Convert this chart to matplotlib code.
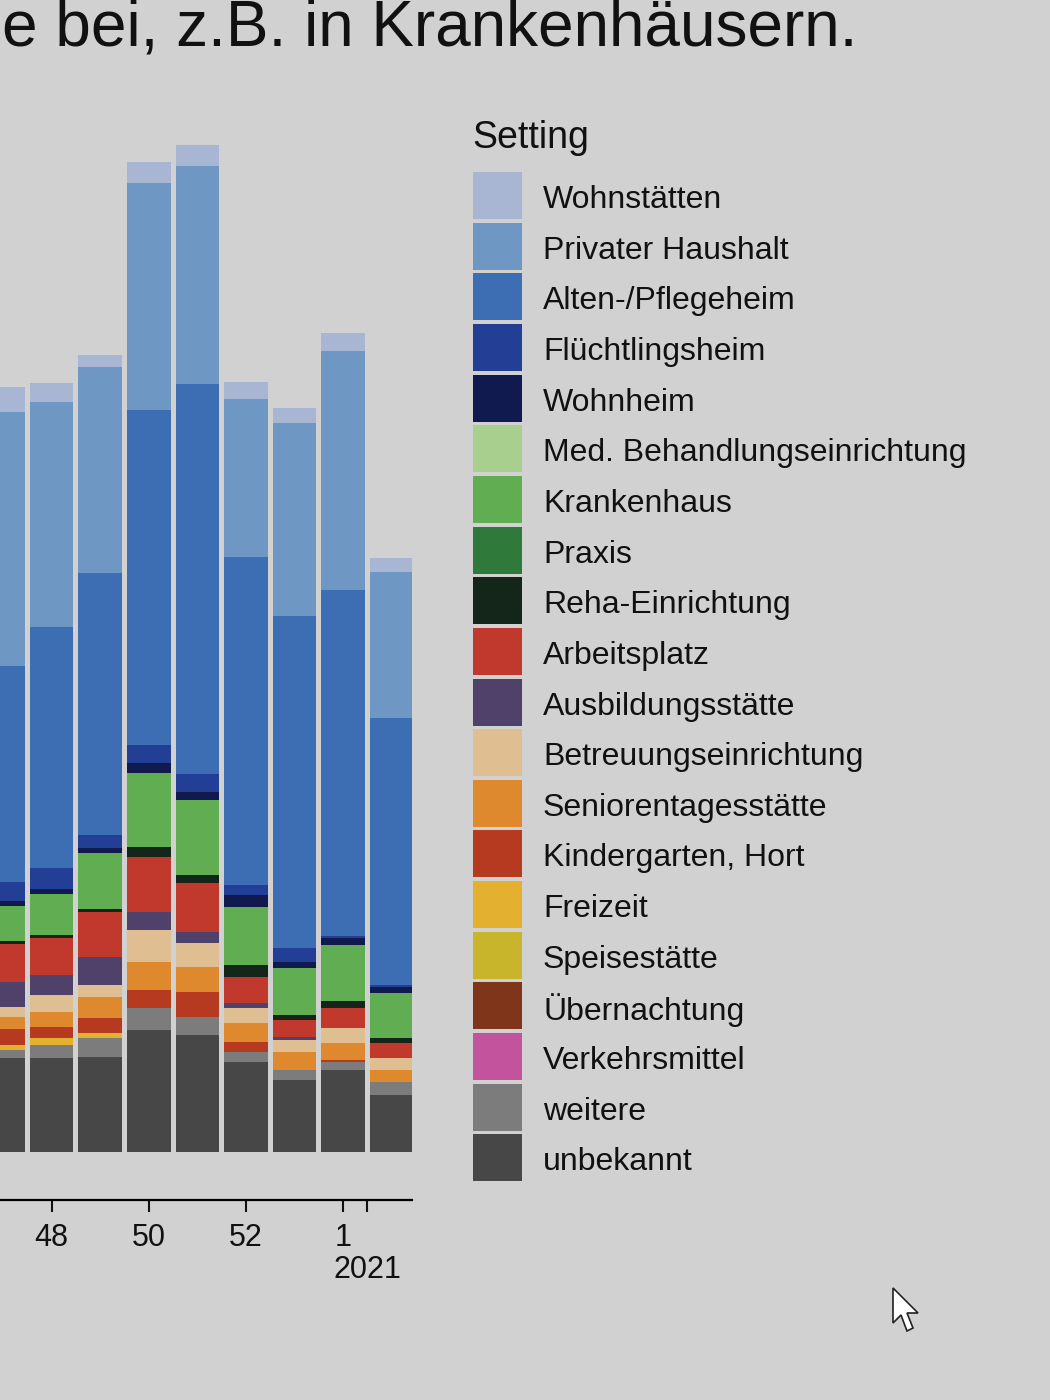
import matplotlib
matplotlib.use("Agg")
import matplotlib.pyplot as plt
from matplotlib.patches import Rectangle, Polygon

plt.rcParams['font.family'] = ['Liberation Sans', 'DejaVu Sans']

W, H = 1050, 1400

# Meldewochen (47/2020 ... 2/2021)
weeks = ['47', '48', '49', '50', '51', '52', '53', '1', '2']

# Fälle je Setting, von unten nach oben gestapelt
unbekannt = [94, 94, 95, 122, 117, 90, 72, 82, 57]
weitere = [8, 13, 19, 22, 18, 10, 10, 8, 13]
verkehrsmittel = [0, 0, 0, 0, 0, 0, 0, 0, 0]
uebernachtung = [0, 0, 0, 0, 0, 0, 0, 0, 0]
speisestaette = [0, 0, 0, 0, 0, 0, 0, 0, 0]
freizeit = [5, 7, 5, 0, 0, 0, 0, 0, 0]
kindergarten = [16, 11, 15, 18, 25, 10, 0, 2, 0]
senioren = [12, 15, 21, 28, 25, 19, 18, 17, 12]
betreuung = [10, 17, 12, 32, 24, 15, 12, 15, 12]
ausbildung = [25, 20, 28, 18, 11, 5, 3, 0, 0]
arbeitsplatz = [38, 37, 45, 55, 49, 26, 17, 20, 15]
reha = [3, 3, 3, 10, 8, 12, 5, 7, 5]
praxis = [0, 0, 0, 0, 0, 0, 0, 0, 0]
krankenhaus = [35, 41, 56, 74, 75, 58, 47, 56, 45]
med_behandlung = [0, 0, 0, 0, 0, 0, 0, 0, 0]
wohnheim = [5, 5, 5, 10, 8, 12, 6, 7, 6]
fluechtlingsheim = [19, 21, 13, 18, 18, 10, 14, 2, 2]
altenheim = [216, 241, 262, 335, 390, 328, 332, 346, 267]
privat = [254, 225, 206, 227, 218, 158, 193, 239, 146]
wohnstaetten = [25, 19, 12, 21, 21, 17, 15, 18, 14]

series = [
    ('unbekannt', unbekannt, '#474747'),
    ('weitere', weitere, '#7c7c7c'),
    ('Verkehrsmittel', verkehrsmittel, '#c2539c'),
    ('Übernachtung', uebernachtung, '#7e3519'),
    ('Speisestätte', speisestaette, '#c9b52c'),
    ('Freizeit', freizeit, '#e3b02f'),
    ('Kindergarten, Hort', kindergarten, '#b53a1f'),
    ('Seniorentagesstätte', senioren, '#df892f'),
    ('Betreuungseinrichtung', betreuung, '#dfbf92'),
    ('Ausbildungsstätte', ausbildung, '#4f4169'),
    ('Arbeitsplatz', arbeitsplatz, '#c0392c'),
    ('Reha-Einrichtung', reha, '#14261a'),
    ('Praxis', praxis, '#2f7a3a'),
    ('Krankenhaus', krankenhaus, '#61ad52'),
    ('Med. Behandlungseinrichtung', med_behandlung, '#a8cf8e'),
    ('Wohnheim', wohnheim, '#111a4e'),
    ('Flüchtlingsheim', fluechtlingsheim, '#233f95'),
    ('Alten-/Pflegeheim', altenheim, '#3d6db3'),
    ('Privater Haushalt', privat, '#6e97c4'),
    ('Wohnstätten', wohnstaetten, '#a9b6d3'),
]

bg = '#d1d1d1'
fig = plt.figure(figsize=(W / 100, H / 100), dpi=100, facecolor=bg)


def fx(px):
    return px / W


def fy(py):
    return 1 - py / H


# plot area: x axis line at y=1200 px, bars start at 1152 px
ax = fig.add_axes([0, fy(1200), fx(412), (1200 - 100) / H])
ax.set_facecolor(bg)

x = list(range(len(weeks)))
bottom = [0] * len(weeks)
for name, vals, col in series:
    ax.bar(x, vals, width=0.9, bottom=bottom, color=col, linewidth=0)
    bottom = [b + v for b, v in zip(bottom, vals)]

ax.set_xlim(-0.062, 8.416)
ax.set_ylim(-48, 1052)
ax.set_yticks([])
for s in ['left', 'right', 'top']:
    ax.spines[s].set_visible(False)
ax.spines['bottom'].set_linewidth(1.6)

ax.set_xticks([1, 3, 5, 7])
ax.set_xticklabels([weeks[1], weeks[3], weeks[5], weeks[7]])
ax.set_xticks([7.5], minor=True)
ax.tick_params(axis='x', which='both', direction='out', length=8.5, width=1.5,
               pad=8, labelsize=22, colors='#111111')
fig.text(fx(367), fy(1270), '2021', ha='center', va='center', fontsize=22,
         color='#111111')

# title (only its end is visible in the photo)
fig.text(fx(857), fy(46), 'e bei, z.B. in Krankenhäusern.', ha='right',
         va='baseline', fontsize=46, color='#111111')

# legend
fig.text(fx(472), fy(138), 'Setting', ha='left', va='center', fontsize=27,
         color='#111111')
pitch = 50.65
for i, (name, vals, col) in enumerate(reversed(series)):
    top = 172 + i * pitch
    fig.add_artist(Rectangle((fx(473), fy(top + 47)), fx(49), 47 / H,
                             facecolor=col, edgecolor='none',
                             transform=fig.transFigure))
    fig.text(fx(543), fy(top + 28), name, ha='left', va='center',
             fontsize=23, color='#111111')

# mouse pointer in the photo
cursor = [(893, 1288), (893, 1323), (901, 1315), (907, 1331), (913, 1328),
          (907, 1313), (918, 1313)]
fig.add_artist(Polygon([(fx(a), fy(b)) for a, b in cursor], closed=True,
                       facecolor='white', edgecolor='#222222', linewidth=1.2,
                       transform=fig.transFigure))

fig.savefig('out.png', dpi=100, facecolor=bg)
